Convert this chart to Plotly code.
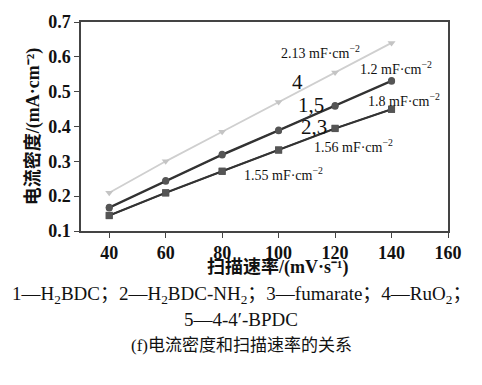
import plotly.graph_objects as go

scan_rate = [40, 60, 80, 100, 120, 140]
s1_h2bdc = [0.168, 0.245, 0.320, 0.390, 0.460, 0.532]
s5_bpdc = [0.166, 0.243, 0.318, 0.388, 0.458, 0.530]
s2_nh2 = [0.145, 0.210, 0.272, 0.333, 0.395, 0.450]
s3_fum = [0.144, 0.209, 0.271, 0.332, 0.394, 0.449]
s4_ruo2 = [0.210, 0.300, 0.385, 0.470, 0.555, 0.640]

y_ticks = [0.1, 0.2, 0.3, 0.4, 0.5, 0.6, 0.7]
x_ticks = [40, 60, 80, 100, 120, 140, 160]

FONT = "Liberation Serif, Noto Sans CJK SC"
fig = go.Figure()

def add(y, sym, col, lcol):
    fig.add_trace(go.Scatter(x=scan_rate, y=y, mode="lines+markers",
                             line=dict(color=lcol, width=1.8),
                             marker=dict(symbol=sym, size=7, color=col),
                             showlegend=False))

add(s4_ruo2, "triangle-down", "#c4c4c4", "#cfcfcf")
add(s5_bpdc, "circle", "#555555", "#333333")
add(s1_h2bdc, "circle", "#555555", "#333333")
add(s3_fum, "square", "#555555", "#333333")
add(s2_nh2, "square", "#555555", "#333333")

ann = [
    (114.9, 0.615, "2.13 mF·cm<sup>−2</sup>", 14),
    (141.5, 0.567, "1.2 mF·cm<sup>−2</sup>", 14),
    (144.4, 0.476, "1.8 mF·cm<sup>−2</sup>", 14),
    (126.6, 0.343, "1.56 mF·cm<sup>−2</sup>", 14),
    (101.8, 0.264, "1.55 mF·cm<sup>−2</sup>", 14),
    (106.7, 0.527, "4", 21),
    (111.3, 0.462, "1,5", 21),
    (112.4, 0.400, "2,3", 21),
]
for x, y, t, s in ann:
    fig.add_annotation(x=x, y=y, text=t, showarrow=False,
                       font=dict(family=FONT, size=s, color="#111"))

caps = [
    (277, 268, "<b>扫描速率/(mV·s⁻¹)</b>", 18),
    (241, 296, "1—H<sub>2</sub>BDC；2—H<sub>2</sub>BDC-NH<sub>2</sub>；3—fumarate；4—RuO<sub>2</sub>；", 19),
    (241, 321, "5—4-4′-BPDC", 19),
    (241, 347, "(f)电流密度和扫描速率的关系", 17),
]
for xpx, ypx, t, s in caps:
    fig.add_annotation(xref="paper", yref="paper", x=(xpx - 81) / 367.0,
                       y=(231 - ypx) / 212.0, xanchor="center", yanchor="middle",
                       text=t, showarrow=False,
                       font=dict(family=FONT, size=s, color="#111"))

fig.update_layout(
    width=482, height=385,
    margin=dict(l=81, r=34, t=19, b=154),
    paper_bgcolor="white", plot_bgcolor="white",
    font=dict(family=FONT, color="#111"),
    xaxis=dict(range=[30, 160], tickvals=x_ticks, ticks="outside", ticklen=5,
               tickcolor="#444", showline=True, linecolor="#444", linewidth=1.5,
               mirror=True, showgrid=False, zeroline=False,
               tickfont=dict(size=18, family=FONT, weight="bold")),
    yaxis=dict(range=[0.1, 0.7], tickvals=y_ticks, tickformat=".1f",
               ticks="outside", ticklen=5, tickcolor="#444",
               showline=True, linecolor="#444", linewidth=1.5, mirror=True,
               showgrid=False, zeroline=False,
               tickfont=dict(size=18, family=FONT, weight="bold"),
               title=dict(text="<b>电流密度/(mA·cm⁻²)</b>", standoff=4,
                          font=dict(size=18, family=FONT))),
)
fig.write_html("out.html")
